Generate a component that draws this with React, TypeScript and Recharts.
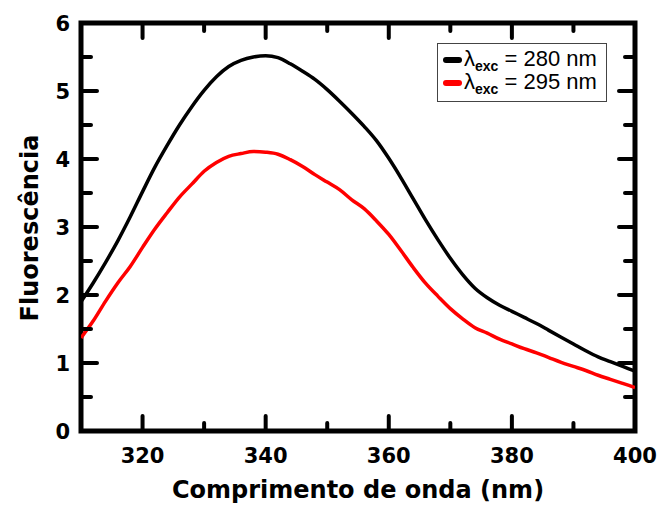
import { Customized, Legend, Line, LineChart, ReferenceArea, XAxis, YAxis } from 'recharts'

// emission wavelength (nm)
const wavelength = [
  310, 312, 314, 316, 318, 320, 322, 324, 326, 328, 330, 332, 334, 336, 338, 340,
  342, 344, 346, 348, 350, 352, 354, 356, 358, 360, 362, 364, 366, 368, 370, 372,
  374, 376, 378, 380, 382, 384, 386, 388, 390, 392, 394, 396, 398, 400,
]

// fluorescence, excitation at 280 nm
const fluorExc280 = [
  1.9, 2.18, 2.48, 2.8, 3.15, 3.52, 3.88, 4.2, 4.5, 4.77, 5.01, 5.21, 5.36, 5.45, 5.5, 5.52,
  5.49, 5.4, 5.29, 5.17, 5.02, 4.85, 4.67, 4.48, 4.27, 4.01, 3.72, 3.41, 3.1, 2.81, 2.54, 2.3,
  2.1, 1.96, 1.85, 1.76, 1.67, 1.58, 1.48, 1.38, 1.28, 1.18, 1.09, 1.02, 0.95, 0.88,
]

// fluorescence, excitation at 295 nm
const fluorExc295 = [
  1.37, 1.62, 1.91, 2.18, 2.42, 2.7, 2.97, 3.21, 3.44, 3.63, 3.82, 3.95, 4.04, 4.08, 4.11, 4.1,
  4.07, 3.99, 3.89, 3.77, 3.66, 3.55, 3.4, 3.27, 3.09, 2.89, 2.65, 2.4, 2.17, 1.98, 1.8, 1.65,
  1.52, 1.44, 1.35, 1.28, 1.21, 1.15, 1.08, 1.01, 0.95, 0.89, 0.82, 0.76, 0.7, 0.64,
]

const excLabels = ['280', '295']
const excColors = ['#000000', '#ff0000']

const xTicks = [310, 320, 330, 340, 350, 360, 370, 380, 390, 400]
const yTicks = [0, 0.5, 1, 1.5, 2, 2.5, 3, 3.5, 4, 4.5, 5, 5.5, 6]

const data = wavelength.map((nm, i) => ({
  nm,
  exc280: fluorExc280[i],
  exc295: fluorExc295[i],
}))

const FONT = '"DejaVu Sans", Verdana, sans-serif'

function BottomTick({ x, y, payload }: any) {
  const v = payload.value
  const major = v % 20 === 0
  return (
    <g>
      <line x1={x} x2={x} y1={y} y2={y - (major ? 15 : 8)} stroke="#000" strokeWidth={4} strokeLinecap="round" />
      {major && (
        <text x={x} y={y + 32} textAnchor="middle" fontFamily={FONT} fontWeight="bold" fontSize={21} fill="#000">
          {v}
        </text>
      )}
    </g>
  )
}

function TopTick({ x, y, payload }: any) {
  const major = payload.value % 20 === 0
  return <line x1={x} x2={x} y1={y} y2={y + (major ? 15 : 8)} stroke="#000" strokeWidth={4} strokeLinecap="round" />
}

function LeftTick({ x, y, payload }: any) {
  const v = payload.value
  const major = Number.isInteger(v)
  return (
    <g>
      <line x1={x} x2={x + (major ? 16 : 10)} y1={y} y2={y} stroke="#000" strokeWidth={4} strokeLinecap="round" />
      {major && (
        <text x={x - 11} y={y} dy="0.36em" textAnchor="end" fontFamily={FONT} fontWeight="bold" fontSize={21} fill="#000">
          {v}
        </text>
      )}
    </g>
  )
}

function RightTick({ x, y, payload }: any) {
  const major = Number.isInteger(payload.value)
  return <line x1={x} x2={x - (major ? 16 : 10)} y1={y} y2={y} stroke="#000" strokeWidth={4} strokeLinecap="round" />
}

function Titles() {
  return (
    <g fontFamily={FONT} fontWeight="bold" fontSize={24} fill="#000">
      <text x={358} y={498} textAnchor="middle">
        Comprimento de onda (nm)
      </text>
      <text x={38} y={228} textAnchor="middle" transform="rotate(-90 38 228)">
        Fluorescência
      </text>
    </g>
  )
}

function LegendBox() {
  return (
    <div
      style={{
        width: 170,
        height: 59,
        boxSizing: 'border-box',
        border: '1px solid #444',
        background: '#fff',
        padding: '4px 0 0 5px',
        fontFamily: '"Liberation Sans", Arial, sans-serif',
        fontSize: 22,
        lineHeight: '23px',
        color: '#000',
      }}
    >
      {excLabels.map((label, i) => (
        <div key={label} style={{ display: 'flex', alignItems: 'center', whiteSpace: 'nowrap', height: 23 }}>
          <span
            style={{
              display: 'inline-block',
              width: 19,
              height: 6,
              borderRadius: 3,
              background: excColors[i],
              marginRight: 2,
            }}
          />
          <span>
            λ
            <span style={{ fontSize: 14, fontWeight: 'bold', position: 'relative', top: 5 }}>exc</span> = {label} nm
          </span>
        </div>
      ))}
    </div>
  )
}

export default function App() {
  return (
    <div style={{ position: 'absolute', left: 0, top: 0, background: '#fff' }}>
      <LineChart width={660} height={508} data={data} margin={{ top: 22, right: 24, bottom: 0, left: 0 }}>
        <XAxis
          dataKey="nm"
          type="number"
          domain={[310, 400]}
          ticks={xTicks}
          interval={0}
          allowDataOverflow
          height={77}
          tickSize={0}
          tickMargin={0}
          axisLine={false}
          tickLine={false}
          tick={<BottomTick />}
        />
        <XAxis
          xAxisId="top"
          orientation="top"
          dataKey="nm"
          type="number"
          domain={[310, 400]}
          ticks={xTicks}
          interval={0}
          allowDataOverflow
          height={1}
          tickSize={0}
          tickMargin={0}
          axisLine={false}
          tickLine={false}
          tick={<TopTick />}
        />
        <YAxis
          type="number"
          domain={[0, 6]}
          ticks={yTicks}
          interval={0}
          allowDataOverflow
          width={81}
          tickSize={0}
          tickMargin={0}
          axisLine={false}
          tickLine={false}
          tick={<LeftTick />}
        />
        <YAxis
          yAxisId="right"
          orientation="right"
          type="number"
          domain={[0, 6]}
          ticks={yTicks}
          interval={0}
          allowDataOverflow
          width={1}
          tickSize={0}
          tickMargin={0}
          axisLine={false}
          tickLine={false}
          tick={<RightTick />}
        />
        <ReferenceArea
          x1={310}
          x2={400}
          y1={0}
          y2={6}
          ifOverflow="visible"
          fill="none"
          stroke="#000"
          strokeWidth={5}
          fillOpacity={0}
        />
        <Line
          dataKey="exc295"
          type="monotone"
          stroke={excColors[1]}
          strokeWidth={3.5}
          dot={false}
          isAnimationActive={false}
        />
        <Line
          dataKey="exc280"
          type="monotone"
          stroke={excColors[0]}
          strokeWidth={3.5}
          dot={false}
          isAnimationActive={false}
        />
        <Legend
          layout="horizontal"
          verticalAlign="middle"
          align="center"
          content={<LegendBox />}
          wrapperStyle={{ position: 'absolute', left: 437, top: 43, width: 'auto' }}
        />
        <Customized component={<Titles />} />
      </LineChart>
    </div>
  )
}
